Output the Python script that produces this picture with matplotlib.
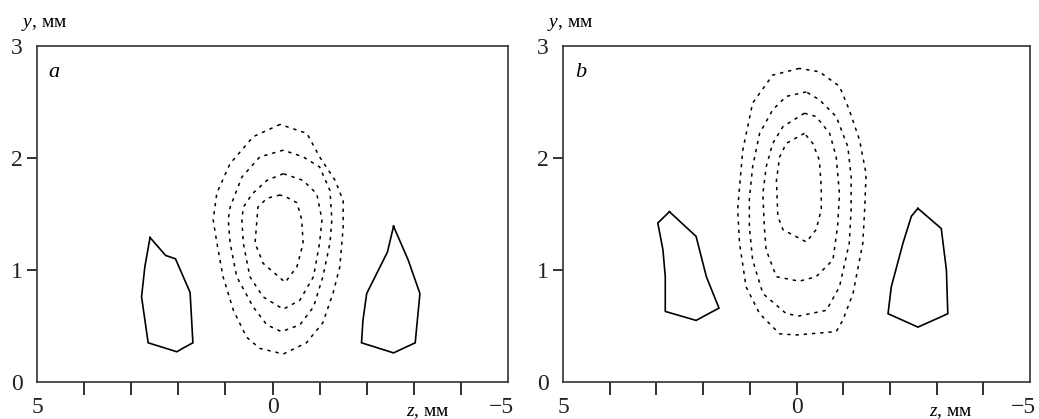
import matplotlib
matplotlib.use("Agg")
import matplotlib.pyplot as plt
from matplotlib.ticker import FixedLocator
from matplotlib.transforms import ScaledTranslation

plt.rcParams['font.family'] = ['Liberation Serif', 'DejaVu Serif']
plt.rcParams['mathtext.fontset'] = 'custom'
plt.rcParams['mathtext.rm'] = 'Liberation Serif'
plt.rcParams['mathtext.it'] = 'Liberation Serif:italic'

# ---- panel a: contours (z, y) in mm ----
a_left_z = [2.60, 2.27, 2.06, 1.75, 1.69, 1.91, 2.03, 2.64, 2.78, 2.71]
a_left_y = [1.29, 1.13, 1.10, 0.80, 0.35, 0.30, 0.27, 0.35, 0.76, 1.03]
a_right_z = [-2.57, -2.44, -2.00, -1.92, -1.89, -2.57, -3.03, -3.13, -2.88]
a_right_y = [1.39, 1.16, 0.79, 0.55, 0.35, 0.26, 0.35, 0.79, 1.09]

a_c1_z = [-0.16, 0.41, 0.90, 1.18, 1.26, 1.18, 1.05, 0.83, 0.55, 0.27, -0.23,
          -0.72, -1.07, -1.29, -1.43, -1.50, -1.50, -1.33, -1.00, -0.73]
a_c1_y = [2.30, 2.19, 1.95, 1.69, 1.45, 1.24, 0.94, 0.64, 0.40, 0.30, 0.25,
          0.35, 0.53, 0.80, 1.03, 1.38, 1.62, 1.80, 2.01, 2.22]
a_c2_z = [-0.23, 0.27, 0.65, 0.90, 0.94, 0.90, 0.76, 0.41, 0.12, -0.19, -0.58,
          -0.87, -1.07, -1.22, -1.26, -1.22, -1.00, -0.65]
a_c2_y = [2.07, 2.01, 1.83, 1.56, 1.45, 1.24, 0.94, 0.67, 0.51, 0.45, 0.51,
          0.67, 0.94, 1.24, 1.45, 1.71, 1.92, 2.01]
a_c3_z = [-0.23, 0.12, 0.43, 0.62, 0.65, 0.62, 0.48, 0.20, -0.23, -0.58, -0.87,
          -1.00, -1.05, -0.94, -0.65]
a_c3_y = [1.86, 1.80, 1.68, 1.56, 1.45, 1.24, 0.94, 0.76, 0.65, 0.73, 0.94,
          1.24, 1.45, 1.68, 1.80]
a_c4_z = [-0.16, 0.12, 0.31, 0.33, 0.37, 0.20, -0.27, -0.52, -0.65, -0.62,
          -0.52, -0.30]
a_c4_y = [1.67, 1.64, 1.56, 1.45, 1.24, 1.06, 0.89, 1.03, 1.24, 1.45,
          1.60, 1.65]

# ---- panel b: contours (z, y) in mm ----
b_left_z = [2.72, 2.97, 2.86, 2.81, 2.81, 2.15, 1.66, 1.93, 2.15]
b_left_y = [1.52, 1.42, 1.18, 0.94, 0.63, 0.55, 0.66, 0.94, 1.30]
b_right_z = [-2.60, -3.10, -3.21, -3.24, -3.03, -2.60, -1.96, -2.03, -2.28, -2.46]
b_right_y = [1.55, 1.37, 1.00, 0.61, 0.57, 0.49, 0.61, 0.85, 1.24, 1.48]

b_c1_z = [-0.06, 0.51, 0.94, 1.15, 1.22, 1.26, 1.22, 1.08, 0.79, 0.36, 0.00,
          -0.85, -0.99, -1.21, -1.42, -1.46, -1.49, -1.35, -1.13, -0.92, -0.49]
b_c1_y = [2.80, 2.74, 2.49, 2.07, 1.74, 1.54, 1.24, 0.85, 0.61, 0.43, 0.42,
          0.45, 0.55, 0.79, 1.24, 1.54, 1.86, 2.16, 2.43, 2.64, 2.77]
b_c2_z = [-0.21, 0.22, 0.51, 0.79, 0.94, 1.01, 1.01, 0.94, 0.72, 0.22, -0.06,
          -0.64, -0.92, -1.13, -1.17, -1.17, -1.10, -0.85, -0.49]
b_c2_y = [2.59, 2.55, 2.43, 2.22, 1.92, 1.63, 1.39, 1.09, 0.79, 0.61, 0.59,
          0.64, 0.85, 1.24, 1.54, 1.83, 2.10, 2.37, 2.52]
b_c3_z = [-0.17, 0.29, 0.51, 0.65, 0.72, 0.69, 0.65, 0.43, -0.06, -0.42, -0.78,
          -0.88, -0.92, -0.85, -0.71, -0.42]
b_c3_y = [2.40, 2.28, 2.13, 1.92, 1.68, 1.39, 1.18, 0.94, 0.90, 0.94, 1.09,
          1.39, 1.68, 2.01, 2.22, 2.37]
b_c4_z = [-0.17, 0.22, 0.36, 0.43, 0.40, 0.29, -0.21, -0.42, -0.53, -0.53,
          -0.49, -0.35]
b_c4_y = [2.22, 2.13, 2.01, 1.80, 1.48, 1.36, 1.25, 1.36, 1.54, 1.74,
          1.98, 2.13]

panels = [
    dict(letter='a', solid=[(a_left_z, a_left_y), (a_right_z, a_right_y)],
         dotted=[(a_c1_z, a_c1_y), (a_c2_z, a_c2_y), (a_c3_z, a_c3_y), (a_c4_z, a_c4_y)],
         rect=[37 / 1039, 37 / 419, 471 / 1039, 336 / 419]),
    dict(letter='b', solid=[(b_left_z, b_left_y), (b_right_z, b_right_y)],
         dotted=[(b_c1_z, b_c1_y), (b_c2_z, b_c2_y), (b_c3_z, b_c3_y), (b_c4_z, b_c4_y)],
         rect=[563 / 1039, 37 / 419, 467 / 1039, 336 / 419]),
]

x_major = [5, 0, -5]
x_labels = ['5', '0', '\u22125']
x_minor = [4, 3, 2, 1, -1, -2, -3, -4]
y_major = [0, 1, 2, 3]


def closed(xs, ys):
    return list(xs) + [xs[0]], list(ys) + [ys[0]]


fig = plt.figure(figsize=(10.39, 4.19), dpi=100)

for p in panels:
    ax = fig.add_axes(p['rect'])
    for zs, ys in p['solid']:
        cz, cy = closed(zs, ys)
        ax.plot(cz, cy, color='black', lw=1.2, solid_joinstyle='miter')
    for zs, ys in p['dotted']:
        cz, cy = closed(zs, ys)
        ax.plot(cz, cy, color='black', lw=1.1, linestyle=(0, (2.2, 3.2)))

    ax.set_xlim(5, -5)
    ax.set_ylim(0, 3)

    ax.xaxis.set_major_locator(FixedLocator(x_major))
    ax.xaxis.set_minor_locator(FixedLocator(x_minor))
    ax.set_xticklabels(x_labels)
    ax.yaxis.set_major_locator(FixedLocator(y_major))
    ax.set_yticklabels([str(v) for v in y_major])

    ax.tick_params(axis='x', which='both', direction='out', length=9, width=1.3,
                   colors='#222222', labelsize=17, pad=1.5)
    ax.tick_params(axis='y', which='major', direction='out', length=7, width=1.3,
                   colors='#222222', labelsize=17, pad=3)
    for t in ax.xaxis.get_major_ticks():
        if t.get_loc() in (5, -5):
            t.tick1line.set_visible(False)
    for t in ax.yaxis.get_major_ticks():
        if t.get_loc() in (0, 3):
            t.tick1line.set_visible(False)

    # pull the rightmost label slightly inward so it stays on the canvas
    for lbl in ax.get_xticklabels():
        if lbl.get_text() == '\u22125':
            lbl.set_transform(lbl.get_transform() +
                              ScaledTranslation(-7 / 100, 0, fig.dpi_scale_trans))

    for s in ax.spines.values():
        s.set_linewidth(1.2)
        s.set_color('#333333')

    ax.text(0.025, 0.92, p['letter'], transform=ax.transAxes, fontsize=16,
            style='italic', ha='left', va='center')

    # axis captions
    ax.text(-3.3, -0.065, r'$z$, мм', transform=ax.get_xaxis_transform(),
            fontsize=14, ha='center', va='top')
    ax.text(-0.035, 1.04, r'$y$, мм', transform=ax.transAxes,
            fontsize=14, ha='left', va='bottom')

fig.savefig('out.png', dpi=100)
